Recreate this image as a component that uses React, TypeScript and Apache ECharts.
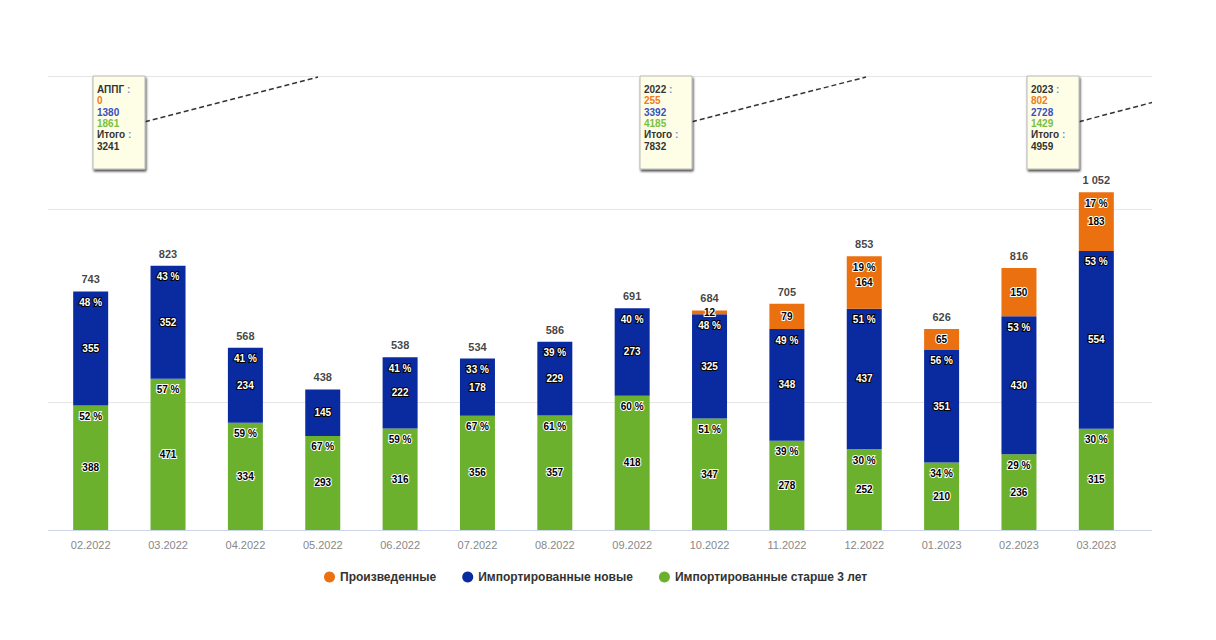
import React, { useEffect, useRef } from 'react';
import * as echarts from 'echarts';

const categories = ['02.2022', '03.2022', '04.2022', '05.2022', '06.2022', '07.2022', '08.2022', '09.2022', '10.2022', '11.2022', '12.2022', '01.2023', '02.2023', '03.2023'];
const produced = [0, 0, 0, 0, 0, 0, 0, 0, 12, 79, 164, 65, 150, 183];
const importedNew = [355, 352, 234, 145, 222, 178, 229, 273, 325, 348, 437, 351, 430, 554];
const importedOld = [388, 471, 334, 293, 316, 356, 357, 418, 347, 278, 252, 210, 236, 315];
const gridValues = [400, 1000];
const yMax = 1415;

const annotationTitles = ['АППГ', '2022', '2023'];
const annotationProduced = [0, 255, 802];
const annotationNew = [1380, 3392, 2728];
const annotationOld = [1861, 4185, 1429];
const annotationTotal = [3241, 7832, 4959];

const seriesNames = ['Произведенные', 'Импортированные новые', 'Импортированные старше 3 лет'];

// layout (pixels)
const annLayout = [
  { x: 93, end: [318, 77] },
  { x: 640, end: [866, 77] },
  { x: 1027, end: [1152, 102.5] },
];

const COLORS = { produced: '#ea7010', fresh: '#0a2aa0', old: '#6cb12e' };
const FONT = '"Liberation Sans", Arial, sans-serif';

const fmt = (v: number) => String(v).replace(/\B(?=(\d{3})+(?!\d))/g, ' ');

export default function App() {
  const ref = useRef<HTMLDivElement>(null);
  useEffect(() => {
    if (!ref.current) return;
    const chart = echarts.init(ref.current, null, { renderer: 'svg' });
    const totals = categories.map((_, i) => produced[i] + importedNew[i] + importedOld[i]);

    const darkLabel = { color: '#000', textBorderColor: '#fff', textBorderWidth: 2 };
    const lightLabel = { color: '#fff', textBorderColor: '#000', textBorderWidth: 2 };

    const visBar = (name: string, data: number[], color: string, lbl: any) => ({
      name,
      type: 'bar',
      stack: 'vis',
      barWidth: 35,
      barGap: '-100%',
      data,
      itemStyle: { color },
      label: {
        show: true,
        position: 'inside',
        fontFamily: FONT,
        fontSize: 10,
        fontWeight: 'bold',
        ...lbl,
        formatter: (p: any) => (p.value > 0 ? fmt(p.value) : ''),
      },
    });
    const pctBar = (name: string, data: number[], lbl: any) => ({
      name,
      type: 'bar',
      stack: 'pct',
      barWidth: 35,
      barGap: '-100%',
      silent: true,
      data,
      itemStyle: { color: 'rgba(0,0,0,0)' },
      label: {
        show: true,
        position: 'insideTop',
        distance: 6,
        fontFamily: FONT,
        fontSize: 10,
        fontWeight: 'bold',
        ...lbl,
        formatter: (p: any) =>
          p.value >= 160 ? Math.round((p.value / totals[p.dataIndex]) * 100) + ' %' : '',
      },
    });

    chart.setOption({
      animation: false,
      grid: { left: 52, right: 81, top: 75.7, bottom: 110 },
      legend: {
        data: seriesNames,
        top: 566,
        left: 319,
        icon: 'circle',
        itemWidth: 11,
        itemHeight: 11,
        itemGap: 26,
        textStyle: { fontFamily: FONT, fontSize: 12, fontWeight: 'bold', color: '#333' },
      },
      xAxis: {
        type: 'category',
        data: categories,
        axisLine: { show: false },
        axisTick: { show: false },
        axisLabel: { margin: 9, fontFamily: FONT, fontSize: 11, color: '#888' },
      },
      yAxis: {
        type: 'value',
        min: 0,
        max: yMax,
        show: false,
        splitLine: { show: false },
      },
      series: [
        visBar(seriesNames[2], importedOld, COLORS.old, darkLabel),
        visBar(seriesNames[1], importedNew, COLORS.fresh, lightLabel),
        visBar(seriesNames[0], produced, COLORS.produced, darkLabel),
        pctBar('pctOld', importedOld, darkLabel),
        pctBar('pctNew', importedNew, lightLabel),
        pctBar('pctProduced', produced, darkLabel),
        {
          name: 'totals',
          type: 'scatter',
          data: totals,
          symbolSize: 1,
          silent: true,
          itemStyle: { color: 'rgba(0,0,0,0)' },
          label: {
            show: true,
            position: 'top',
            distance: 6,
            fontFamily: FONT,
            fontSize: 11,
            fontWeight: 'bold',
            color: '#111',
            textBorderColor: '#fff',
            textBorderWidth: 1,
            formatter: (p: any) => fmt(p.value),
          },
        },
      ],
    });

    const graphics: any[] = [];
    const xLeft = 48;
    const xRight = 1152;
    const yTop = chart.convertToPixel({ yAxisIndex: 0 }, yMax) as number;
    const yZero = chart.convertToPixel({ yAxisIndex: 0 }, 0) as number;
    [yTop, ...gridValues.map((v) => chart.convertToPixel({ yAxisIndex: 0 }, v) as number)].forEach((y) => {
      graphics.push({
        type: 'line',
        z: -10,
        shape: { x1: xLeft, y1: Math.round(y) + 0.5, x2: xRight, y2: Math.round(y) + 0.5 },
        style: { stroke: '#e6e6e6', lineWidth: 1 },
      });
    });
    graphics.push({
      type: 'line',
      z: -10,
      shape: { x1: xLeft, y1: Math.round(yZero) + 0.5, x2: xRight, y2: Math.round(yZero) + 0.5 },
      style: { stroke: '#ccd6eb', lineWidth: 1 },
    });

    const rs = (fill: string) => ({ fill, fontFamily: FONT, fontSize: 10, fontWeight: 'bold', lineHeight: 11.4 });

    annLayout.forEach((a, i) => {
      const w = 52;
      graphics.push({
        type: 'polyline',
        z: 50,
        shape: { points: [[a.x + w, 121.7], a.end] },
        style: { stroke: '#333', lineWidth: 1.5, lineDash: [5, 3], fill: null },
      });
      graphics.push({
        type: 'rect',
        z: 51,
        shape: { x: a.x, y: 76, width: w, height: 93 },
        style: {
          fill: '#fefee6',
          stroke: '#b8b8b8',
          lineWidth: 1,
          shadowBlur: 2,
          shadowOffsetX: 1,
          shadowOffsetY: 2,
          shadowColor: 'rgba(0,0,0,0.7)',
        },
      });
      graphics.push({
        type: 'text',
        z: 52,
        x: a.x + 4,
        y: 83.6,
        style: {
          text:
            `{h|${annotationTitles[i]}}{c| :}\n{o|${annotationProduced[i]}}\n{n|${annotationNew[i]}}\n{g|${annotationOld[i]}}\n{h|Итого}{c| :}\n{t|${annotationTotal[i]}}`,
          verticalAlign: 'top',
          align: 'left',
          fontFamily: FONT,
          fontSize: 10,
          fontWeight: 'bold',
          lineHeight: 11.4,
          rich: {
            h: rs('#333'),
            c: rs('#6f8fd8'),
            o: rs('#f07a24'),
            n: rs('#3850c0'),
            g: rs('#78c040'),
            t: rs('#333'),
          },
        },
      });
    });

    chart.setOption({ graphic: graphics });

    return () => chart.dispose();
  }, []);

  return (
    <div
      ref={ref}
      style={{ position: 'fixed', left: 0, top: 0, width: 1216, height: 640, background: '#fff' }}
    />
  );
}
